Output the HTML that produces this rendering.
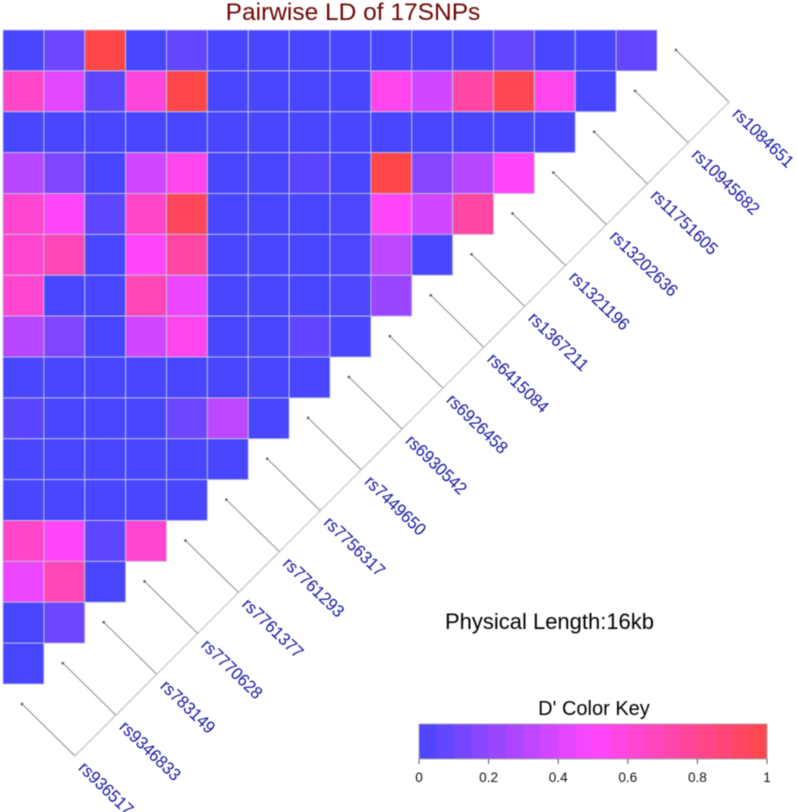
<!DOCTYPE html>
<html lang="en">
<head>
<meta charset="utf-8">
<title>Pairwise LD of 17SNPs</title>
<style>
html,body{margin:0;padding:0;background:#fff;width:797px;height:812px;overflow:hidden}
svg{display:block;font-family:"Liberation Sans",Arial,sans-serif;filter:blur(0.4px)}
</style>
</head>
<body>
<svg id="chart" xmlns="http://www.w3.org/2000/svg" width="797" height="812" viewBox="0 0 797 812">
  <text x="353" y="20" font-size="24.5" fill="#6c0606" text-anchor="middle">Pairwise LD of 17SNPs</text>
  <g id="heatmap"></g>
  <g id="snp-lines"></g>
  <g id="snp-labels"></g>
  <text x="445" y="629" font-size="22" textLength="209" lengthAdjust="spacingAndGlyphs" fill="#000">Physical Length:16kb</text>
  <text x="594" y="715" font-size="20" fill="#000" text-anchor="middle">D' Color Key</text>
  <g id="color-key"></g>
</svg>
<script>
const snpNames = ["rs1084651","rs10945682","rs11751605","rs13202636","rs1321196","rs1367211","rs6415084","rs6926458","rs6930542","rs7449650","rs7756317","rs7761293","rs7761377","rs7770628","rs783149","rs9346833","rs936517"];
const row0 = [0,0.1,1,0,0.08,0,0,0,0,0,0,0,0.08,0,0,0.08];
const row1 = [0.65,0.42,0.06,0.6,1,0,0,0,0,0.55,0.38,0.75,0.97,0.55,0];
const row2 = [0,0,0,0,0,0,0,0,0,0,0,0,0,0];
const row3 = [0.3,0.15,0,0.38,0.55,0,0,0.05,0,1,0.17,0.3,0.52];
const row4 = [0.62,0.52,0.06,0.65,0.95,0,0,0,0.01,0.52,0.38,0.75];
const row5 = [0.62,0.7,0,0.52,0.75,0,0,0,0.01,0.32,0];
const row6 = [0.62,0,0,0.7,0.45,0,0,0,0.01,0.22];
const row7 = [0.3,0.15,0,0.38,0.55,0,0,0.07,0];
const row8 = [0,0,0,0,0,0,0,0];
const row9 = [0.05,0,0,0,0.1,0.32,0];
const row10 = [0,0,0,0,0,0];
const row11 = [0,0,0,0,0];
const row12 = [0.65,0.52,0.06,0.62];
const row13 = [0.45,0.7,0];
const row14 = [0,0.1];
const row15 = [0];
const ldRows = [row0,row1,row2,row3,row4,row5,row6,row7,row8,row9,row10,row11,row12,row13,row14,row15];
const keyTicks = [0,0.2,0.4,0.6,0.8,1];
const keyTickLabels = ["0","0.2","0.4","0.6","0.8","1"];
const keySteps = 20;

const NS = "http://www.w3.org/2000/svg";
const CELL = 40.875, GRID_X = 3, GRID_Y = 30;
const KEY_X0 = 419, KEY_X1 = 767, KEY_Y0 = 724, KEY_Y1 = 759;

function xScale(c){ return GRID_X + c * CELL; }
function yScale(r){ return GRID_Y + r * CELL; }
function keyScale(v){ return KEY_X0 + v * (KEY_X1 - KEY_X0); }
function colorFor(v){
  const lo = 0x48;
  let r, g = 0x46, b;
  if (v <= 0.5){ r = lo + (255 - lo) * (v / 0.5); b = 255; }
  else { r = 255; b = 255 - (255 - lo) * ((v - 0.5) / 0.5); }
  return "rgb(" + Math.round(r) + "," + g + "," + Math.round(b) + ")";
}
function make(tag, attrs, parent){
  const el = document.createElementNS(NS, tag);
  for (const k in attrs) el.setAttribute(k, attrs[k]);
  parent.appendChild(el);
  return el;
}

const heat = document.getElementById("heatmap");
ldRows.forEach(function(row, r){
  row.forEach(function(v, c){
    const cell = make("rect", {x:xScale(c), y:yScale(r), width:CELL, height:CELL, fill:colorFor(v), stroke:"#c4c4dc", "stroke-width":0.9}, heat);
    
    
  });
});

const lines = document.getElementById("snp-lines");
const labels = document.getElementById("snp-labels");
const TOP_X = 676, TOP_Y = 50, LEN = 53;
snpNames.forEach(function(name, i){
  const tx = TOP_X - i * CELL, ty = TOP_Y + i * CELL;
  const dot = make("circle", {cx:tx, cy:ty, r:1.3, fill:"#444466"}, lines);
  
  
  const ln = make("line", {x1:tx, y1:ty, x2:tx + LEN, y2:ty + LEN - 1, stroke:"#8c8c8c", "stroke-width":1}, lines);
  
  
  const lx = tx + 55.5, ly = ty + 65;
  const label = make("text", {x:0, y:0, "font-size":17.4, fill:"#1414a0", transform:"translate(" + lx + " " + ly + ") rotate(44) scale(0.94 1)"}, labels);
  label.textContent = name;
  
  
});
const base = make("line", {x1:TOP_X + LEN, y1:TOP_Y + LEN - 1, x2:TOP_X + LEN - 16 * CELL, y2:TOP_Y + LEN - 1 + 16 * CELL, stroke:"#b8b8b8", "stroke-width":1}, lines);



const key = document.getElementById("color-key");
for (let s = 0; s < keySteps; s++){
  const v0 = s / keySteps, v1 = (s + 1) / keySteps;
  const seg = make("rect", {x:keyScale(v0), y:KEY_Y0, width:keyScale(v1) - keyScale(v0) + 0.4, height:KEY_Y1 - KEY_Y0, fill:colorFor((v0 + v1) / 2)}, key);
  
  
}
const frame = make("rect", {x:KEY_X0, y:KEY_Y0, width:KEY_X1 - KEY_X0, height:KEY_Y1 - KEY_Y0, fill:"none", stroke:"#a8a8a8", "stroke-width":1}, key);


keyTicks.forEach(function(t, i){
  const tick = make("line", {x1:keyScale(t), y1:KEY_Y1, x2:keyScale(t), y2:KEY_Y1 + 5, stroke:"#555", "stroke-width":1}, key);
  
  
  const lab = make("text", {x:keyScale(t), y:782, "font-size":13.6, fill:"#111", "text-anchor":"middle"}, key);
  lab.textContent = keyTickLabels[i];
  
  
});
</script>
</body>
</html>
